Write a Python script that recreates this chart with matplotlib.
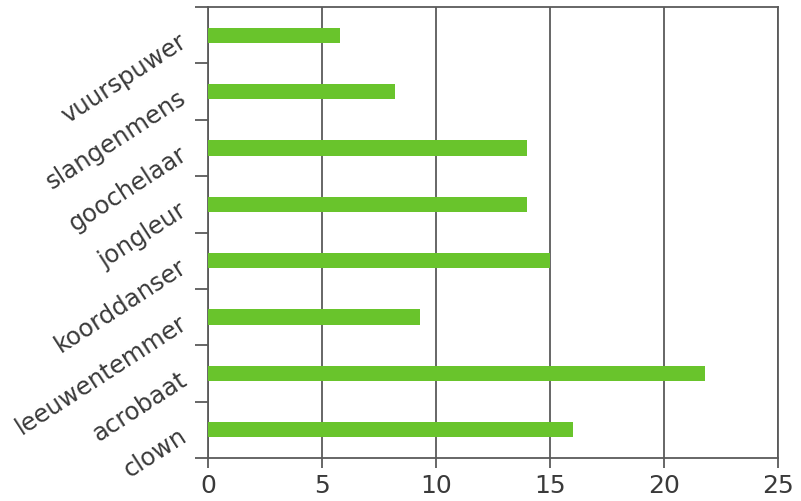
import matplotlib.pyplot as plt
import matplotlib.transforms as mtransforms
import numpy as np

beroepen = ["clown", "acrobaat", "leeuwentemmer", "koorddanser",
            "jongleur", "goochelaar", "slangenmens", "vuurspuwer"]
aantal = [16.0, 21.8, 9.3, 15.0, 14.0, 14.0, 8.2, 5.8]
x_ticks = [0, 5, 10, 15, 20, 25]

groen = "#69c42c"
lijn = "#5a5a5a"
tekst = "#3a3a3a"

fig = plt.figure(figsize=(8.01, 5.02), dpi=100)
ax = fig.add_axes([208 / 801, 43 / 502, 570 / 801, 451 / 502])

y = np.arange(len(beroepen)) + 0.5
ax.barh(y, aantal, height=0.27, color=groen, zorder=3)

ax.set_xlim(0, 25)
ax.set_ylim(0, len(beroepen))

# vertical grid lines
ax.set_xticks(x_ticks)
ax.xaxis.grid(True, color=lijn, linewidth=1.3, zorder=1)
ax.tick_params(axis="x", length=7, width=1.3, color=lijn, pad=4,
               labelsize=18, labelcolor=tekst)

# y ticks on the band edges, labels on the band centres
ax.set_yticks(np.arange(len(beroepen) + 1))
ax.set_yticklabels([])
ax.tick_params(axis="y", which="major", length=9.5, width=1.3, color=lijn)
ax.set_yticks(y, minor=True)
ax.set_yticklabels(beroepen, minor=True, rotation=33, ha="right",
                   va="center", rotation_mode="anchor", fontsize=17.5,
                   color=tekst)
ax.tick_params(axis="y", which="minor", length=0, pad=17)
shift = mtransforms.ScaledTranslation(0, -3 / 100, fig.dpi_scale_trans)
for lab in ax.get_yticklabels(minor=True):
    lab.set_transform(lab.get_transform() + shift)

for s in ["left", "bottom", "top", "right"]:
    ax.spines[s].set_color(lijn)
    ax.spines[s].set_linewidth(1.3)

fig.savefig("out.png", dpi=100)
